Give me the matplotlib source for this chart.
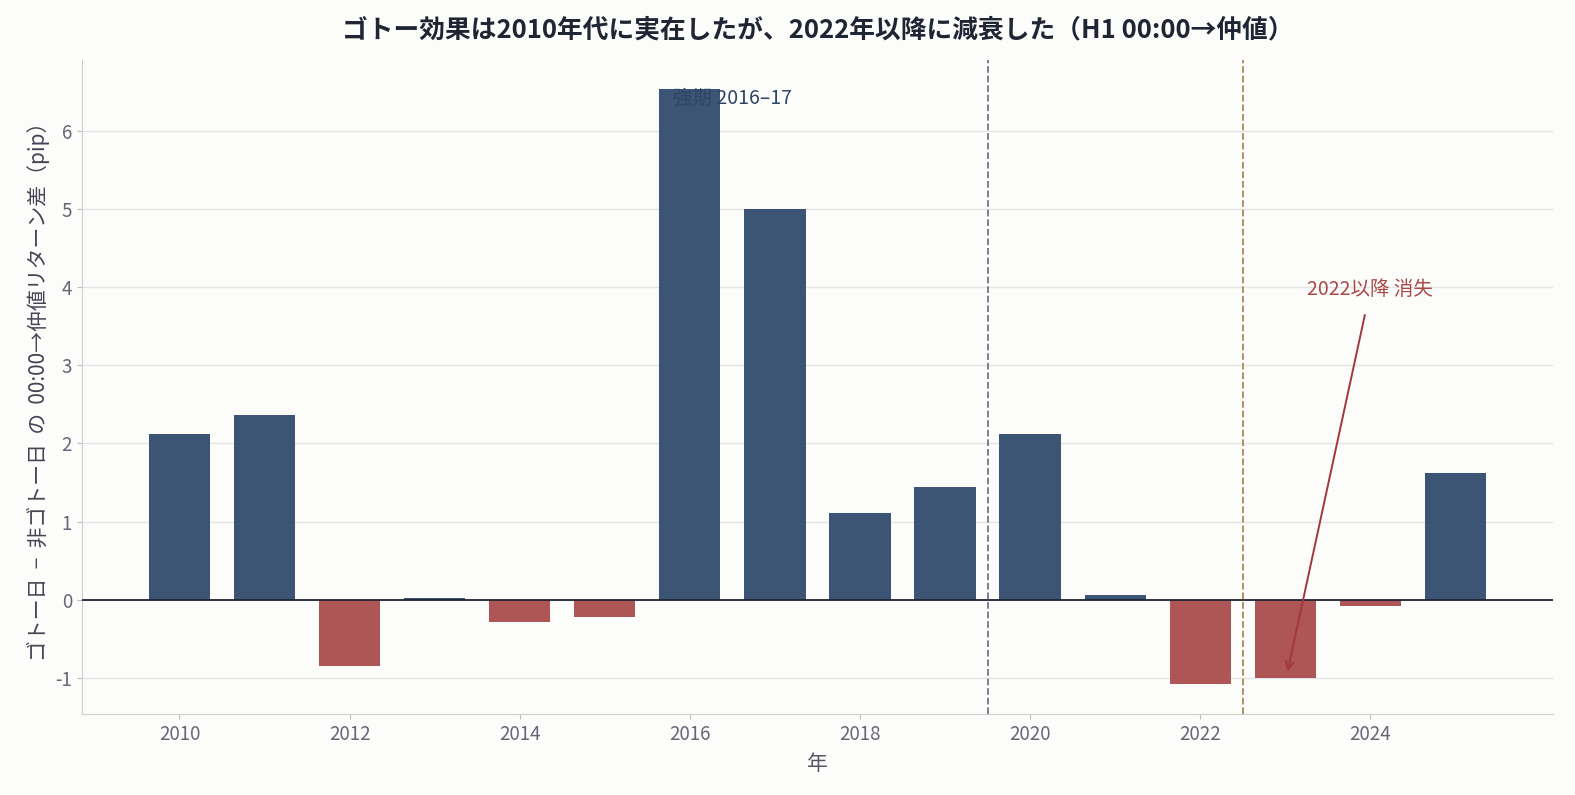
import matplotlib.pyplot as plt
import numpy as np

plt.rcParams["font.family"] = ["Noto Sans CJK JP", "DejaVu Sans"]
plt.rcParams["axes.unicode_minus"] = False

years = [2010, 2011, 2012, 2013, 2014, 2015, 2016, 2017,
         2018, 2019, 2020, 2021, 2022, 2023, 2024, 2025]
diff_pip = [2.12, 2.36, -0.85, 0.025, -0.28, -0.22, 6.53, 5.0,
            1.11, 1.44, 2.12, 0.065, -1.08, -1.0, -0.075, 1.62]

BLUE = "#2b4769"
RED = "#a84847"
BG = "#fcfcfa"

fig, ax = plt.subplots(figsize=(15.75, 7.95), dpi=100)
fig.patch.set_facecolor(BG)
ax.set_facecolor(BG)

colors = [BLUE if v >= 0 else RED for v in diff_pip]
ax.bar(years, diff_pip, width=0.72, color=colors, alpha=0.92, zorder=2)
ax.axhline(0, color="#1f2533", lw=1.3, zorder=3)

ax.axvline(2019.5, color="#74748a", ls="--", lw=1.3, zorder=3)
ax.axvline(2022.5, color="#a68a5a", ls="--", lw=1.3, zorder=3)

ax.text(2016.5, 6.55, "強期 2016–17", ha="center", va="top",
        fontsize=14, color="#2e4566", zorder=4)
ax.annotate("2022以降 消失", xy=(2023.02, -0.95), xytext=(2024, 3.97),
            ha="center", va="center", fontsize=14, color="#a84847",
            arrowprops=dict(arrowstyle="->", color="#a0393b", lw=1.4,
                            shrinkA=9))

ax.grid(axis="y", color="#e4e4e4", lw=1, zorder=0)
ax.set_axisbelow(True)
for s in ["top", "right"]:
    ax.spines[s].set_visible(False)
for s in ["left", "bottom"]:
    ax.spines[s].set_color("#cfcfcf")
ax.tick_params(colors="#666677", labelsize=13.5)
ax.tick_params(axis="both", color="#bbbbbb")
ax.set_xticks(np.arange(2010, 2026, 2))

ax.set_xlabel("年", fontsize=15, color="#555566", labelpad=6)
ax.set_ylabel("ゴトー日  −  非ゴトー日  の  00:00→仲値リターン差（pip）",
              fontsize=15, color="#444455")
ax.set_title("ゴトー効果は2010年代に実在したが、2022年以降に減衰した（H1 00:00→仲値）",
             fontsize=18.5, fontweight="bold", color="#1f2533", pad=16)

fig.subplots_adjust(left=0.052, right=0.986, top=0.925, bottom=0.102)
fig.savefig("out.png", dpi=100, facecolor=BG)
